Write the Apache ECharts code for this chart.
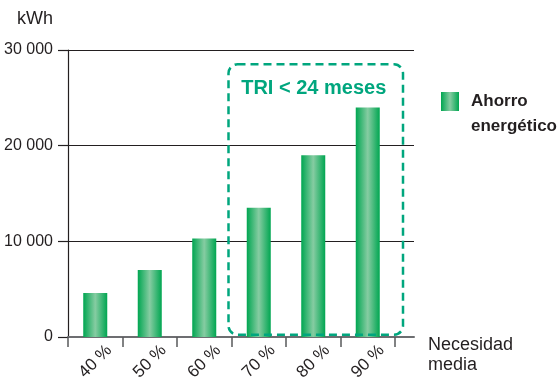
<!DOCTYPE html>
<html>
<head>
<meta charset="utf-8">
<script src="https://cdn.jsdelivr.net/npm/echarts@6/dist/echarts.min.js"></script>
<style>
  html, body { margin: 0; padding: 0; background: #ffffff; }
  #chart { width: 560px; height: 378px; }
</style>
</head>
<body>
<div id="chart"></div>
<script>
// Energy savings (kWh) by average heating need
const categories = ['40 %', '50 %', '60 %', '70 %', '80 %', '90 %'];
const ahorro = [4600, 7000, 10300, 13500, 19000, 24000];
const seriesName = 'Ahorro energético';
const yMin = 0, yMax = 30000, yStep = 10000;
const yName = 'kWh';
const xName = 'Necesidad\nmedia';

// Highlighted range: payback under 24 months
const highlightLabel = 'TRI < 24 meses';
const highlightFrom = '70 %', highlightTo = '90 %';
const highlightTop = 28500, highlightBottom = 240;

const INK = '#231f20';
const TEAL = '#00a67e';
const SANS = '"Liberation Sans", Arial, sans-serif';

const fmtThousands = v => String(v).replace(/\B(?=(\d{3})+(?!\d))/g, ' ');
const barFill = new echarts.graphic.LinearGradient(0, 0, 1, 0, [
  { offset: 0, color: '#00a651' },
  { offset: 0.5, color: '#86cca2' },
  { offset: 1, color: '#00a651' }
]);

// Legend swatch: square on top, empty room below so the swatch lines up with the first text line
const legendIcon = 'path://M0,0H18V19H0Z M0,44H18V44H0Z';

const chart = echarts.init(document.getElementById('chart'), null, { renderer: 'canvas' });

chart.setOption({
  animation: false,
  backgroundColor: '#ffffff',
  textStyle: { fontFamily: SANS },
  grid: [
    // value grid: gridlines + baseline
    { left: 68, right: 146, top: 50, bottom: 41, outerBoundsMode: 'none', containLabel: false },
    // category grid: bars
    { left: 68, right: 165, top: 50, bottom: 41, outerBoundsMode: 'none', containLabel: false }
  ],
  legend: {
    data: [{ name: seriesName, icon: legendIcon }],
    left: 441,
    top: 89,
    padding: 0,
    itemWidth: 18,
    itemHeight: 44,
    formatter: name => name.replace(' ', '\n'),
    textStyle: {
      fontFamily: SANS, fontWeight: 'bold', fontSize: 17, color: INK,
      lineHeight: 25, padding: [0, 0, 0, 7]
    }
  },
  xAxis: [
    {
      gridIndex: 0, type: 'value', min: 0, max: 1,
      axisLine: { show: true, lineStyle: { color: '#6d6e71', width: 2 } },
      axisTick: { show: false }, axisLabel: { show: false }, splitLine: { show: false },
      name: xName, nameLocation: 'end', nameGap: 14,
      nameTextStyle: {
        fontFamily: SANS, fontSize: 18, color: INK, lineHeight: 20,
        align: 'left', verticalAlign: 'top', padding: [-2, 0, 0, 0]
      }
    },
    {
      gridIndex: 1, type: 'category', data: categories,
      axisLine: { show: false },
      axisTick: { show: true, interval: 0, length: 10, lineStyle: { color: '#58595b', width: 1.5 } },
      axisLabel: {
        interval: 0, rotate: 45, margin: -3, fontFamily: SANS, fontSize: 17, color: INK,
        verticalAlign: 'top', padding: [11, 0, 0, 0]
      }
    }
  ],
  yAxis: [
    {
      gridIndex: 0, type: 'value', min: yMin, max: yMax, interval: yStep,
      axisLine: { show: true, onZero: false, lineStyle: { color: INK, width: 1.2 } },
      axisTick: { show: true, length: 10, lineStyle: { color: INK, width: 1.2 } },
      axisLabel: { margin: 15, fontFamily: SANS, fontSize: 16, color: INK, formatter: fmtThousands },
      splitLine: { show: true, lineStyle: { color: INK, width: 1.2 } },
      name: yName, nameLocation: 'end', nameGap: 31,
      nameTextStyle: {
        fontFamily: SANS, fontSize: 18, color: INK,
        align: 'right', verticalAlign: 'middle', padding: [0, 15, 0, 0]
      }
    },
    {
      gridIndex: 1, type: 'value', min: yMin, max: yMax, interval: yStep, show: false
    }
  ],
  series: [
    {
      type: 'bar', name: seriesName, xAxisIndex: 1, yAxisIndex: 1,
      data: ahorro, barWidth: 24,
      itemStyle: { color: barFill }
    }
  ]
});

// Dashed frame around the highlighted categories, placed from the axis scales
const px = c => chart.convertToPixel({ xAxisIndex: 1 }, c);
const py = v => chart.convertToPixel({ yAxisIndex: 1 }, v);
const band = px(categories[1]) - px(categories[0]);
const boxLeft = px(highlightFrom) - band / 2 - 3;
const boxRight = px(highlightTo) + band / 2 + 8;
const boxTop = py(highlightTop);
const boxBottom = py(highlightBottom);

chart.setOption({
  graphic: [
    {
      type: 'rect', z: 10, silent: true,
      shape: { x: boxLeft, y: boxTop, width: boxRight - boxLeft, height: boxBottom - boxTop, r: 9 },
      style: { fill: 'none', stroke: TEAL, lineWidth: 2.5, lineDash: [8, 5] }
    },
    {
      type: 'text', z: 11, silent: true,
      x: (boxLeft + boxRight) / 2 - 2, y: boxTop + 14,
      style: {
        text: highlightLabel, fill: TEAL, fontFamily: SANS, fontWeight: 'bold', fontSize: 20,
        align: 'center', verticalAlign: 'top'
      }
    }
  ]
});
</script>
</body>
</html>
